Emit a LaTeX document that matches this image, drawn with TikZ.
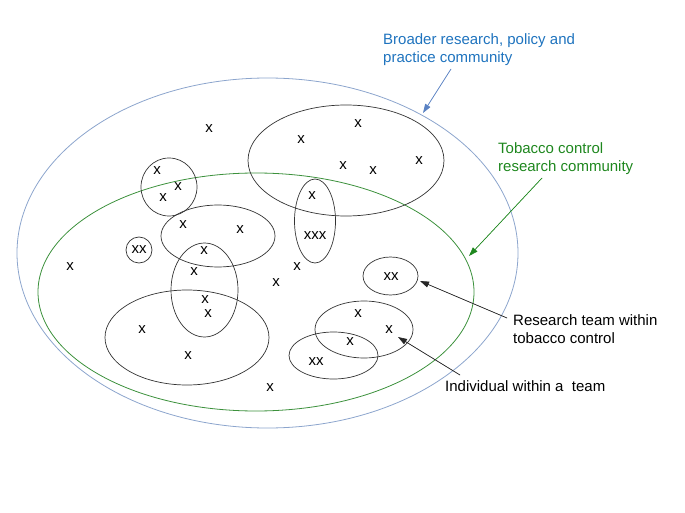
\documentclass[tikz,border=0pt]{standalone}
\usepackage{fontspec}
\setmainfont{Liberation Sans}
\usetikzlibrary{arrows.meta,shapes.geometric}
\definecolor{bluetext}{RGB}{30,115,190}
\definecolor{blueline}{RGB}{140,165,205}
\definecolor{bluearrow}{RGB}{90,130,195}
\definecolor{greentext}{RGB}{30,135,30}
\definecolor{greenline}{RGB}{60,145,60}
\begin{document}
\begin{tikzpicture}[x=1pt,y=-1pt,
  lbl/.style={font=\fontsize{15}{17.5}\selectfont, inner sep=0pt, align=left, anchor=west},
  mk/.style={font=\fontsize{15}{15}\selectfont, inner sep=0pt},
  grp/.style={draw=black!80, line width=0.7pt, ellipse, inner sep=0pt},
  comm/.style={ellipse, inner sep=0pt, line width=0.8pt},
  pointer/.style={line width=0.7pt, -{Triangle[length=9pt,width=6pt]}}
]
\useasboundingbox (0,0) rectangle (685,513);

% communities
\node[comm, draw=blueline, minimum width=501pt, minimum height=350pt] (outer) at (267.5,253) {};
\node[comm, draw=greenline, minimum width=436pt, minimum height=238pt] (inner) at (256,292) {};

% teams
\node[grp, minimum width=196pt, minimum height=111pt] (t1) at (346,160.5) {};
\node[grp, minimum width=56pt, minimum height=58pt] (t2) at (169,187) {};
\node[grp, minimum width=114pt, minimum height=62pt] (t3) at (218,236) {};
\node[grp, minimum width=26pt, minimum height=26pt] (t4) at (139,250) {};
\node[grp, minimum width=41pt, minimum height=84pt] (t5) at (315,221) {};
\node[grp, minimum width=67pt, minimum height=94pt] (t6) at (204.5,290) {};
\node[grp, minimum width=164pt, minimum height=95pt] (t7) at (187,337.5) {};
\node[grp, minimum width=55pt, minimum height=38pt] (t8) at (390.5,276) {};
\node[grp, minimum width=98pt, minimum height=57pt] (t9) at (364,329.5) {};
\node[grp, minimum width=89pt, minimum height=47pt] (t10) at (333.5,355.5) {};

% individuals
\foreach \p [count=\i] in {(209,129),(301,140),(358,124),(343,166),(373,171),(419,161),
  (157,171),(178,187),(163,198),(183,225),(240,230),(312,196),(70,267),(204,251),
  (194,272),(297,267),(276,283),(205,300),(208,314),(142,330),(188,356),(270,388),
  (358,314),(389,330),(350,342)}
  \node[mk] (m\i) at \p {x};
\node[mk] (xxxa) at (315,236) {xxx};
\node[mk] (xxa) at (139,250) {xx};
\node[mk] (xxb) at (391,277) {xx};
\node[mk] (xxc) at (316,362) {xx};

% labels
\node[lbl, text=bluetext] (lblue) at (383,49.5) {Broader research, policy and\\practice community};
\node[lbl, text=greentext] (lgreen) at (498,158.5) {Tobacco control\\research community};
\node[lbl] (lteam) at (513,329) {Research team within\\tobacco control};
\node[lbl] (lind) at (445,386) {Individual within a\ \ team};

% connector ends
\coordinate (bs) at (451,69);
\coordinate (bt) at (423,113);
\coordinate (gs) at (542,178);
\coordinate (gt) at (469,256);
\coordinate (rs) at (507,318);
\coordinate (rt) at (420,281);
\coordinate (is) at (460,375);
\coordinate (it) at (398,337);

\draw[pointer, draw=bluearrow, fill=bluearrow] (bs) -- (bt);
\draw[pointer, draw=greentext, fill=greentext] (gs) -- (gt);
\draw[pointer, draw=black!85, fill=black] (rs) -- (rt);
\draw[pointer, draw=black!85, fill=black] (is) -- (it);
\end{tikzpicture}
\end{document}
